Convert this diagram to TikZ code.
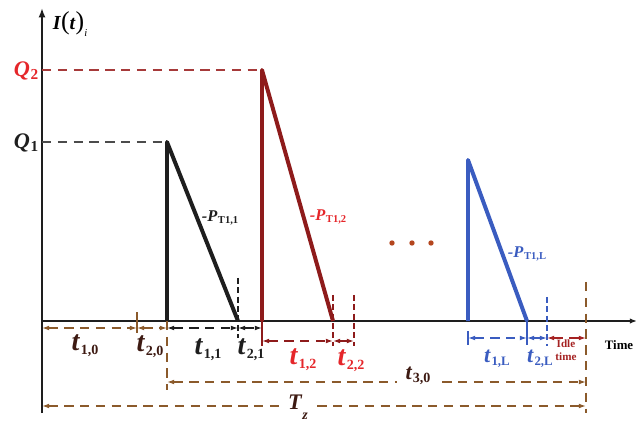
\documentclass[tikz,border=0pt]{standalone}
\usepackage{fontspec}
\setmainfont{Liberation Serif}
\usetikzlibrary{arrows.meta}

\definecolor{cycleblack}{HTML}{1E1E1E}
\definecolor{cyclemaroon}{HTML}{8E1B1B}
\definecolor{labelred}{HTML}{E5262A}
\definecolor{qtwodash}{HTML}{A63A3A}
\definecolor{cycleblue}{HTML}{3A5CC0}
\definecolor{spanbrown}{HTML}{8B5A2B}
\definecolor{spantext}{HTML}{3D1A12}
\definecolor{idlered}{HTML}{A52222}
\definecolor{dotbrown}{HTML}{B4461E}

% symbol with an upright bold subscript
\newcommand{\symsub}[3][12]{\textbf{\textit{#2}}\kern0.5pt\raisebox{-0.15em}{\fontsize{#1}{#1}\selectfont\bfseries #3}}

\tikzset{
  axisline/.style={line width=1.7pt, cycleblack},
  sawtooth/.style={line width=3.4pt, line join=round},
  spanline/.style={<->, line width=1.1pt, dash pattern=on 8pt off 5.5pt},
  guide/.style={line width=1pt, dash pattern=on 8pt off 5.5pt},
  marker/.style={line width=0.9pt, dash pattern=on 5pt off 3pt},
  endtick/.style={line width=0.9pt},
  bigsym/.style={font=\fontsize{24}{24}\selectfont, inner sep=0pt},
  midsym/.style={font=\fontsize{19}{19}\selectfont, inner sep=0pt},
  qsym/.style={font=\fontsize{19}{19}\selectfont, inner sep=0pt},
  slopelbl/.style={font=\fontsize{14}{14}\selectfont, inner sep=0pt}
}

\begin{document}
\begin{tikzpicture}[x=0.03cm, y=-0.03cm, >={Latex[length=6pt,width=4pt]}]
  \useasboundingbox (0,0) rectangle (636,425);

  % points on the time axis
  \coordinate (b0) at (42,321);
  \coordinate (b1) at (137,321);
  \coordinate (c1) at (167,321);
  \coordinate (e1) at (238,321);
  \coordinate (c2) at (262,321);
  \coordinate (e2) at (333,321);
  \coordinate (f2) at (354,321);
  \coordinate (cL) at (468,321);
  \coordinate (eL) at (527,321);
  \coordinate (fL) at (547,321);
  \coordinate (zend) at (586,321);
  % peaks
  \coordinate (q1top) at (167,142);
  \coordinate (q2top) at (262,70);
  \coordinate (qLtop) at (468,160);
  % row heights
  \coordinate (row1) at (0,328);
  \coordinate (rowR) at (0,341);
  \coordinate (rowL) at (0,338);
  \coordinate (row3) at (0,382);
  \coordinate (rowT) at (0,406);

  % axes
  \coordinate (ytop) at (42,8);
  \coordinate (ybot) at (42,413);
  \coordinate (xend) at (637,321);
  \draw[axisline, -{Latex[length=8pt,width=6pt]}] (ybot) -- (ytop);
  \draw[axisline, -{Latex[length=6pt,width=4.5pt]}] (b0) -- (xend);
  \node[font=\fontsize{17}{17}\selectfont, inner sep=0pt] (ilbl) at (70,24)
    {\textbf{\textit{I}}{\fontsize{22}{22}\selectfont(}\textbf{\textit{t}}{\fontsize{22}{22}\selectfont)}\raisebox{-0.35em}{\fontsize{9}{9}\selectfont\itshape i}};

  % levels Q1 and Q2
  \draw[guide, cycleblack!80] (b0 |- q1top) -- (q1top);
  \draw[guide, qtwodash] (b0 |- q2top) -- (q2top);
  \node[qsym, cycleblack] (q1) at (26,143) {\symsub[13]{Q}{1}};
  \node[qsym, labelred] (q2) at (26,71) {\symsub[13]{Q}{2}};

  % inventory cycles
  \draw[sawtooth, cycleblack] (c1) -- (q1top) -- (e1);
  \draw[sawtooth, cyclemaroon] (c2) -- (q2top) -- (e2);
  \draw[sawtooth, cycleblue] (cL) -- (qLtop) -- (eL);
  \node[slopelbl, cycleblack] (p11) at (220,218) {\symsub[9]{-P}{T1,1}};
  \node[slopelbl, labelred] (p12) at (328,217) {\symsub[9]{-P}{T1,2}};
  \node[slopelbl, cycleblue] (p1L) at (527,254) {\symsub[9]{-P}{T1,L}};

  % dots between cycles
  \fill[dotbrown] (392,243) circle[radius=2.3pt];
  \fill[dotbrown] (412,243) circle[radius=2.3pt];
  \fill[dotbrown] (431,243) circle[radius=2.3pt];

  % markers at the ends of the intervals
  \coordinate (m1) at (238,278);
  \coordinate (m2) at (333,295);
  \coordinate (m3) at (354,295);
  \coordinate (m4) at (547,297);
  \coordinate (m5) at (586,282);
  \draw[marker, cycleblack] (m1) -- (m1 |- rowL);
  \draw[marker, cyclemaroon] (m2) -- (e2 |- 0,346);
  \draw[marker, cyclemaroon] (m3) -- (f2 |- 0,346);
  \draw[marker, cycleblue] (m4) -- (fL |- 0,346);
  \draw[guide, spanbrown] (m5) -- (zend |- 0,413);
  \draw[guide, spanbrown] (c1) -- (c1 |- 0,390);
  \draw[endtick, spanbrown] (b1 |- 0,312) -- (b1 |- 0,333);
  \draw[endtick, cyclemaroon] (c2) -- (c2 |- 0,346);
  \draw[endtick, cycleblue] (cL |- 0,331) -- (cL |- 0,345);
  \draw[endtick, cycleblue] (eL) -- (eL |- 0,345);

  % interval arrows
  \draw[spanline, spanbrown] (b0 |- row1) -- (b1 |- row1);
  \draw[spanline, spanbrown] (b1 |- row1) -- (c1 |- row1);
  \draw[spanline, cycleblack] (c1 |- row1) -- (e1 |- row1);
  \draw[spanline, cycleblack] (e1 |- row1) -- (c2 |- row1);
  \draw[spanline, cyclemaroon] (c2 |- rowR) -- (e2 |- rowR);
  \draw[spanline, cyclemaroon] (e2 |- rowR) -- (f2 |- rowR);
  \draw[spanline, cycleblue] (cL |- rowL) -- (eL |- rowL);
  \draw[spanline, cycleblue] (eL |- rowL) -- (fL |- rowL);
  \draw[spanline, idlered] (fL |- rowL) -- (zend |- rowL);
  \draw[spanline, spanbrown] (c1 |- row3) -- (zend |- row3);
  \draw[spanline, spanbrown] (b0 |- rowT) -- (zend |- rowT);

  % interval labels
  \node[bigsym, spantext] (t10) at (85,346) {\symsub{t}{1,0}};
  \node[bigsym, spantext] (t20) at (150,347) {\symsub{t}{2,0}};
  \node[bigsym, cycleblack] (t11) at (208,350) {\symsub{t}{1,1}};
  \node[bigsym, cycleblack] (t21) at (251,350) {\symsub{t}{2,1}};
  \node[bigsym, labelred] (t12) at (303,360) {\symsub{t}{1,2}};
  \node[bigsym, labelred] (t22) at (351,361) {\symsub{t}{2,2}};
  \node[midsym, cycleblue] (t1L) at (497,359) {\symsub[11]{t}{1,L}};
  \node[midsym, cycleblue] (t2L) at (540,359) {\symsub[11]{t}{2,L}};
  \node[idlered, font=\fontsize{9.5}{11}\selectfont\bfseries, align=center, inner sep=0pt] (idle) at (566,350) {Idle\\time};
  \node[font=\fontsize{11}{11}\selectfont\bfseries, inner sep=0pt] (timelbl) at (619,345) {Time};
  \node[midsym, spantext, fill=white, inner xsep=7pt] (t30) at (418,376) {\symsub[12]{t}{3,0}};
  \node[midsym, spantext, fill=white, inner xsep=6pt] (tz) at (298,407)
    {\textbf{\textit{T}}\raisebox{-0.45em}{\fontsize{12}{12}\selectfont\bfseries\itshape z}};
\end{tikzpicture}
\end{document}
